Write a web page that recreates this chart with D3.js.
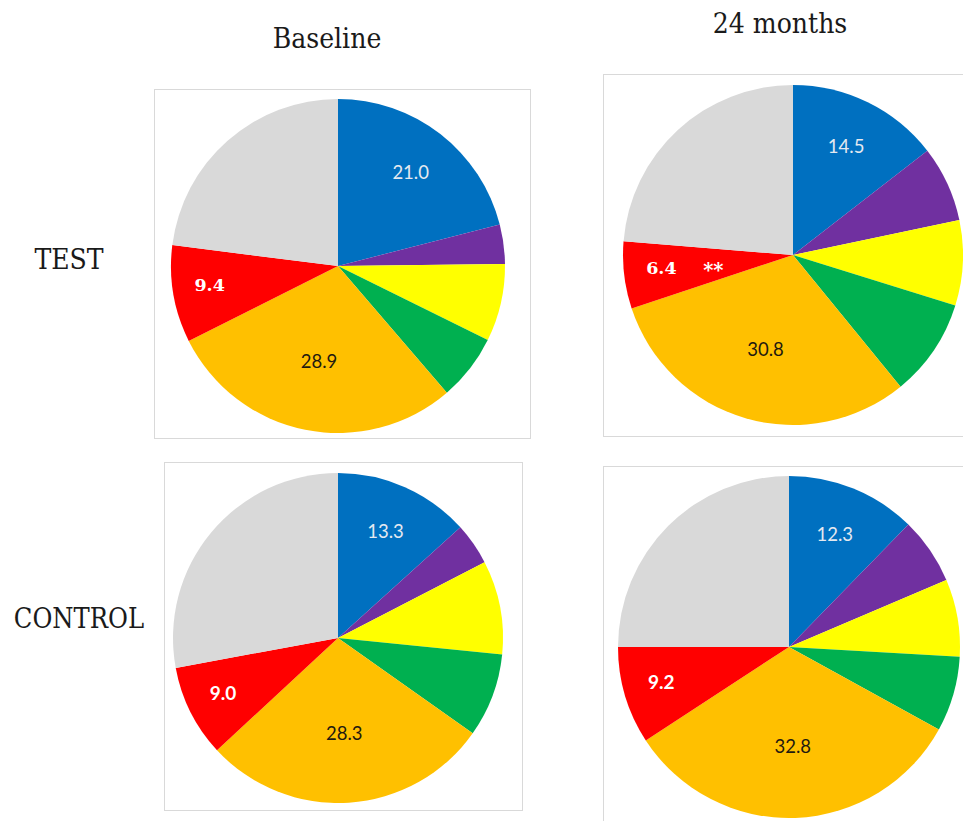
<!DOCTYPE html>
<html>
<head>
<meta charset="utf-8">
<script src="https://cdn.jsdelivr.net/npm/d3@7"></script>
<style>
  html, body { margin: 0; padding: 0; background: #ffffff; }
  svg { display: block; }
</style>
</head>
<body>
<svg id="chart" width="963" height="821"></svg>
<script>
// Segment order, clockwise from 12 o'clock
const categories = ["Group A", "Group B", "Group C", "Group D", "Group E", "Group F", "Group G"];
const sliceColors = ["#0070C0", "#7030A0", "#FFFF00", "#00B050", "#FFC000", "#FF0000", "#D9D9D9"];

// Percentages per panel
const testBaseline    = [21.0, 3.8, 7.5, 6.4, 28.9, 9.4, 23.0];
const test24Months    = [14.5, 7.2, 8.1, 9.3, 30.8, 6.4, 23.7];
const controlBaseline = [13.3, 4.1, 9.2, 8.2, 28.3, 9.0, 27.9];
const control24Months = [12.3, 6.3, 7.3, 7.1, 32.8, 9.2, 25.0];

const columnTitles = ["Baseline", "24 months"];
const rowTitles = ["TEST", "CONTROL"];

// Segments whose value is printed on the slice
const labelledSegments = [0, 4, 5];

// Panel geometry
const panels = [
  { values: testBaseline,    row: 0, cx: 338, cy: 266, r: 167, box: [154.5, 89.5, 530.5, 438.5], mark: null },
  { values: test24Months,    row: 0, cx: 793, cy: 255, r: 170, box: [603.5, 74.5, 965, 436.5],  mark: "**" },
  { values: controlBaseline, row: 1, cx: 338, cy: 638, r: 165, box: [164.5, 462.5, 522.5, 810.5], mark: null },
  { values: control24Months, row: 1, cx: 789, cy: 647, r: 171, box: [603.5, 466.5, 965, 840],   mark: null }
];

// Label radius (fraction of pie radius) and text styling per segment
const labelStyle = {
  0: { frac: 0.71, fill: "#e4e9f0", weight: 400 },
  4: { frac: 0.58, fill: "#1f1a10", weight: 400 },
  5: { frac: 0.78, fill: "#ffffff", weight: 700 }
};

const svg = d3.select("#chart");

const pie = d3.pie().sort(null).value(d => d.value);

panels.forEach(p => {
  const g = svg.append("g");
  const [x0, y0, x1, y1] = p.box;
  g.append("rect")
    .attr("x", x0).attr("y", y0)
    .attr("width", x1 - x0).attr("height", y1 - y0)
    .attr("fill", "#ffffff")
    .attr("stroke", "#d9d9d9").attr("stroke-width", 1);

  const data = p.values.map((v, i) => ({ value: v, index: i, name: categories[i] }));
  const arcs = pie(data);
  const arc = d3.arc().innerRadius(0).outerRadius(p.r);

  const pg = g.append("g").attr("transform", `translate(${p.cx},${p.cy})`);
  pg.selectAll("path")
    .data(arcs)
    .join("path")
    .attr("d", arc)
    .attr("fill", d => sliceColors[d.data.index]);

  arcs.filter(d => labelledSegments.includes(d.data.index)).forEach(d => {
    const st = labelStyle[d.data.index];
    const mid = (d.startAngle + d.endAngle) / 2;
    const rr = p.r * st.frac;
    const lx = Math.sin(mid) * rr;
    const ly = -Math.cos(mid) * rr;
    const isRed = d.data.index === 5;
    const family = isRed && p.row === 0 ? "'DejaVu Serif', serif" : "Lato, 'Open Sans', sans-serif";
    const size = isRed ? (p.row === 0 ? 17.5 : 19) : 18.5;
    pg.append("text")
      .attr("x", lx).attr("y", ly)
      .attr("dy", isRed ? "0.2em" : "0.36em")
      .attr("text-anchor", "middle")
      .attr("font-family", family)
      .attr("font-size", size)
      .attr("font-weight", st.weight)
      .attr("fill", st.fill)
      .text(d.data.value.toFixed(1));
    if (isRed && p.mark) {
      pg.append("text")
        .attr("x", lx + 52).attr("y", ly)
        .attr("dy", "0.3em")
        .attr("text-anchor", "middle")
        .attr("font-family", family)
        .attr("font-size", size + 2)
        .attr("font-weight", 700)
        .attr("fill", "#ffffff")
        .text(p.mark);
    }
  });
});

// Column and row headings
const titleFont = "'DejaVu Serif Condensed', 'DejaVu Serif', serif";
svg.append("text").attr("x", 327).attr("y", 48)
  .attr("text-anchor", "middle").attr("font-family", titleFont)
  .attr("font-size", 28).attr("font-stretch", "condensed").attr("fill", "#1a1a1a")
  .text(columnTitles[0]);
svg.append("text").attr("x", 780).attr("y", 33)
  .attr("text-anchor", "middle").attr("font-family", titleFont)
  .attr("font-size", 28).attr("font-stretch", "condensed").attr("fill", "#1a1a1a")
  .text(columnTitles[1]);
svg.append("text").attr("x", 69).attr("y", 269)
  .attr("text-anchor", "middle").attr("font-family", titleFont)
  .attr("font-size", 28).attr("font-stretch", "condensed").attr("fill", "#1a1a1a")
  .text(rowTitles[0]);
svg.append("text").attr("x", 79).attr("y", 628)
  .attr("text-anchor", "middle").attr("font-family", titleFont)
  .attr("font-size", 27).attr("font-stretch", "condensed").attr("fill", "#1a1a1a")
  .text(rowTitles[1]);
</script>
</body>
</html>
